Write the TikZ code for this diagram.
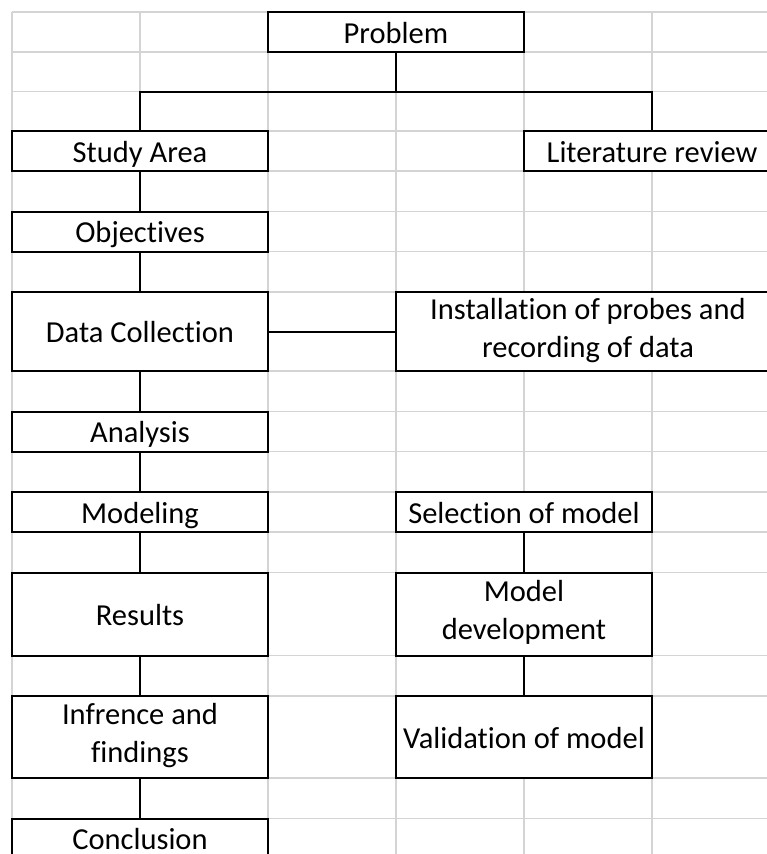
\documentclass[tikz,border=0pt]{standalone}
\usepackage{fontspec}
\setmainfont{Carlito}[RawFeature={-liga;-clig;-calt;-dlig}]
\usetikzlibrary{positioning}
\definecolor{gridgray}{RGB}{212,212,212}
\newcommand{\rowstrut}{\rule[-8pt]{0pt}{38pt}}
\newcommand{\toprowstrut}{\rule[-8pt]{0pt}{41pt}}
\tikzstyle{stage} = [draw, line width=2pt, fill=white, minimum width=256pt,
    minimum height=40pt, inner sep=0pt, outer sep=0pt, align=center,
    font=\fontsize{30.5}{39}\selectfont,
    execute at begin node=\rowstrut, execute at end node=\rowstrut]
\tikzstyle{tworow} = [font=\fontsize{30.5}{38}\selectfont,
    execute at begin node=\toprowstrut]
\tikzset{
  link/.style ={draw, line width=2pt},
  cellline/.style ={draw=gridgray, line width=1.2pt}
}

\begin{document}
\begin{tikzpicture}[x=1pt,y=1pt,node distance=40.5pt]
  \useasboundingbox (0,0) rectangle (767,-854);
  \clip (0,0) rectangle (767,-854);
  % sheet grid
  \foreach \gx in {12,140,268,396,524,652}
    \draw[cellline] (\gx,-12) -- (\gx,-854);
  \foreach \gy in {12,52,91.5,131,171,211.5,251.5,292,371,411.5,451.5,492,532,572.5,655.5,696,778,818.5}
    \draw[cellline] (12,-\gy) -- (767,-\gy);

  \node[stage] (problem) at (396,-32) {Problem};
  \node[stage] (study) at (140,-151) {Study Area};
  \node[stage,right=256pt of study] (litreview) {Literature review};
  \node[stage,below=of study] (objectives) {Objectives};
  \node[stage,below=of objectives,minimum height=79pt] (datacoll) {Data Collection};
  \node[stage,tworow,right=128pt of datacoll,minimum width=384pt,minimum height=79pt] (probes) {Installation of probes and\\recording of data};
  \node[stage,below=of datacoll] (analysis) {Analysis};
  \node[stage,below=of analysis] (modeling) {Modeling};
  \node[stage,right=128pt of modeling] (selection) {Selection of model};
  \node[stage,below=of modeling,minimum height=83pt] (results) {Results};
  \node[stage,tworow,below=of selection,minimum height=83pt] (modeldev) {Model\\development};
  \node[stage,tworow,below=of results,minimum height=82pt] (inference) {Infrence and\\findings};
  \node[stage,below=of modeldev,minimum height=82pt] (validation) {Validation of model};
  \node[stage,below=of inference] (conclusion) {Conclusion};
  \coordinate (branch) at (396,-91.5);

  \begin{scope}[every path/.style=link]
    \path (problem) -- (branch);
    \path (study) |- (branch) -| (litreview);
    \path (study) -- (objectives);
    \path (objectives) -- (datacoll);
    \path (datacoll) -- (probes);
    \path (datacoll) -- (analysis);
    \path (analysis) -- (modeling);
    \path (modeling) -- (results);
    \path (results) -- (inference);
    \path (inference) -- (conclusion);
    \path (selection) -- (modeldev);
    \path (modeldev) -- (validation);
  \end{scope}

\end{tikzpicture}
\end{document}
